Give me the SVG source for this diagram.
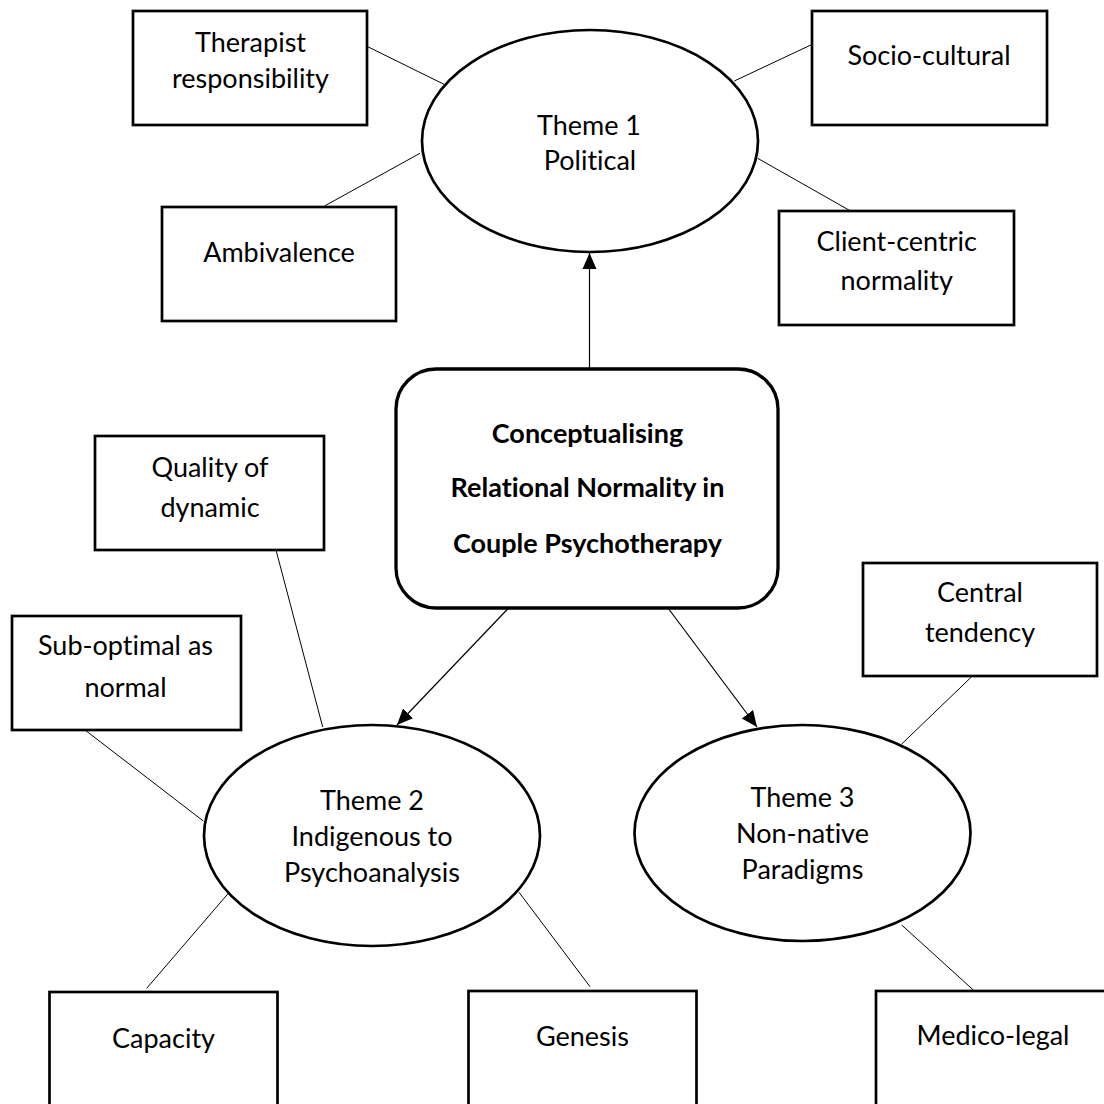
<svg xmlns="http://www.w3.org/2000/svg" width="1104" height="1104" viewBox="0 0 1104 1104">
  <style>
    .box { fill: #fff; stroke: #000; stroke-width: 2.7; }
    .oval { fill: #fff; stroke: #000; stroke-width: 2.7; }
    .core { fill: #fff; stroke: #000; stroke-width: 3.3; }
    .link { stroke: #000; stroke-width: 1; fill: none; }
    .arrow { stroke: #000; stroke-width: 1.2; fill: none; marker-end: url(#head); }
    text { font-family: Lato, "Noto Sans", sans-serif; font-size: 27px; fill: #000; text-anchor: middle; font-variant-ligatures: none; }
    .bold { font-weight: bold; font-size: 27px; }
  </style>
  <defs>
    <marker id="head" markerUnits="userSpaceOnUse" markerWidth="16" markerHeight="16" viewBox="0 0 16 14" refX="16" refY="7" orient="auto">
      <path d="M0,0 L16,7 L0,14 Z" fill="#000"/>
    </marker>
  </defs>
  <rect width="1104" height="1104" fill="#fff"/>

  <g id="connectors">
    <line class="link" x1="367.7" y1="46.7" x2="444" y2="84.3"/>
    <line class="link" x1="325" y1="205.7" x2="420" y2="153.3"/>
    <line class="link" x1="812.3" y1="44.3" x2="734.3" y2="81"/>
    <line class="link" x1="757.7" y1="158.3" x2="850" y2="210.7"/>
    <line class="link" x1="276" y1="550" x2="322.7" y2="727"/>
    <line class="link" x1="85" y1="730" x2="203.3" y2="821"/>
    <line class="link" x1="228.3" y1="893.3" x2="146.7" y2="988.3"/>
    <line class="link" x1="519" y1="892.3" x2="590" y2="986.7"/>
    <line class="link" x1="971.7" y1="676.7" x2="901.7" y2="744"/>
    <line class="link" x1="901.7" y1="925" x2="973.3" y2="990"/>
    <line class="arrow" x1="589.5" y1="369" x2="589.5" y2="253"/>
    <line class="arrow" x1="508.6" y1="608" x2="397" y2="725"/>
    <line class="arrow" x1="668" y1="608" x2="757" y2="727"/>
  </g>

  <g id="core">
    <rect class="core" x="396" y="369" width="382" height="239" rx="40" ry="40"/>
    <text class="bold" x="587.5" y="443">Conceptualising</text>
    <text class="bold" x="587.5" y="497">Relational Normality in</text>
    <text class="bold" x="587.5" y="552.5">Couple Psychotherapy</text>
  </g>

  <g id="theme1">
    <ellipse class="oval" cx="590" cy="141" rx="168" ry="111"/>
    <text x="589" y="135">Theme 1</text>
    <text x="590" y="170">Political</text>
  </g>
  <g id="theme2">
    <ellipse class="oval" cx="372" cy="835.5" rx="168" ry="110.5"/>
    <text x="372" y="810">Theme 2</text>
    <text x="372" y="845.5">Indigenous to</text>
    <text x="372" y="881.5">Psychoanalysis</text>
  </g>
  <g id="theme3">
    <ellipse class="oval" cx="802.5" cy="833" rx="168" ry="108"/>
    <text x="802.5" y="806.5">Theme 3</text>
    <text x="802.5" y="843">Non-native</text>
    <text x="802.5" y="878.5">Paradigms</text>
  </g>

  <g id="therapist-responsibility">
    <rect class="box" x="133" y="11" width="234" height="114"/>
    <text x="250.5" y="51.5">Therapist</text>
    <text x="250.5" y="88">responsibility</text>
  </g>
  <g id="ambivalence">
    <rect class="box" x="162" y="207" width="234" height="114"/>
    <text x="279" y="261.5">Ambivalence</text>
  </g>
  <g id="socio-cultural">
    <rect class="box" x="812" y="11" width="235" height="114"/>
    <text x="929" y="65">Socio-cultural</text>
  </g>
  <g id="client-centric">
    <rect class="box" x="779" y="211" width="235" height="114"/>
    <text x="896.7" y="250.5">Client-centric</text>
    <text x="896.7" y="290">normality</text>
  </g>
  <g id="quality-of-dynamic">
    <rect class="box" x="95" y="436" width="229" height="114"/>
    <text x="210" y="476.5">Quality of</text>
    <text x="210" y="516.5">dynamic</text>
  </g>
  <g id="sub-optimal">
    <rect class="box" x="12" y="616" width="229" height="114"/>
    <text x="125.5" y="655">Sub-optimal as</text>
    <text x="125.5" y="696.5">normal</text>
  </g>
  <g id="central-tendency">
    <rect class="box" x="863" y="563" width="234" height="113"/>
    <text x="980" y="601.5">Central</text>
    <text x="980" y="641.5">tendency</text>
  </g>
  <g id="capacity">
    <rect class="box" x="49.5" y="992" width="228" height="130"/>
    <text x="163.5" y="1048">Capacity</text>
  </g>
  <g id="genesis">
    <rect class="box" x="468.5" y="991" width="228" height="130"/>
    <text x="582.5" y="1046">Genesis</text>
  </g>
  <g id="medico-legal">
    <rect class="box" x="876" y="991" width="234" height="130"/>
    <text x="993" y="1045">Medico-legal</text>
  </g>
</svg>
